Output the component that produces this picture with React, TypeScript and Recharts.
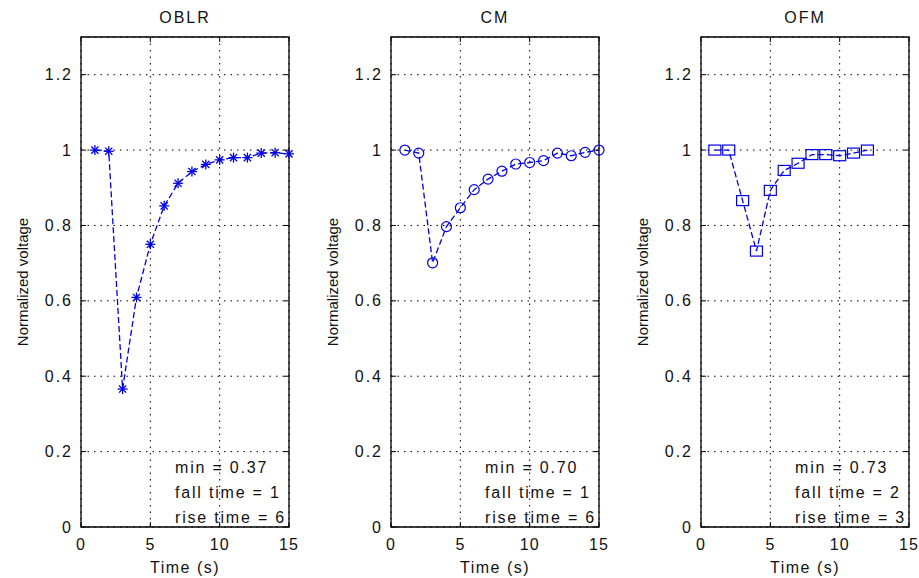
import React from 'react';
import { LineChart, Line, XAxis, YAxis, CartesianGrid, ReferenceArea } from 'recharts';

// time stamps (s)
const timeLong = [1, 2, 3, 4, 5, 6, 7, 8, 9, 10, 11, 12, 13, 14, 15];
const timeShort = [1, 2, 3, 4, 5, 6, 7, 8, 9, 10, 11, 12];

// normalized voltage per method
const oblrValues = [1.0, 0.997, 0.366, 0.609, 0.75, 0.852, 0.912, 0.943, 0.962, 0.974, 0.98, 0.98, 0.992, 0.993, 0.99];
const cmValues = [1.0, 0.992, 0.701, 0.797, 0.847, 0.895, 0.923, 0.944, 0.963, 0.967, 0.972, 0.992, 0.985, 0.994, 1.0];
const ofmValues = [1.0, 1.0, 0.866, 0.732, 0.893, 0.946, 0.965, 0.988, 0.988, 0.985, 0.992, 1.0];

const xTicks = [0, 5, 10, 15];
const yTicks = [0, 0.2, 0.4, 0.6, 0.8, 1, 1.2];

const titles = ['OBLR', 'CM', 'OFM'];
const notes = [
  ['min = 0.37', 'fall time = 1', 'rise time = 6'],
  ['min = 0.70', 'fall time = 1', 'rise time = 6'],
  ['min = 0.73', 'fall time = 2', 'rise time = 3'],
];

const BLUE = '#0000e6';
const FONT = '"Liberation Sans", Arial, sans-serif';
const PLOT_W = 208;
const PLOT_H = 490;
const TICK_LEN = 5;

const toRows = (t: number[], v: number[]) => t.map((time, i) => ({ time, v: v[i] }));

const StarDot: React.FC<any> = ({ cx, cy }) => {
  if (cx == null || cy == null) return null;
  const r = 5;
  const d = r * 0.72;
  return (
    <g stroke={BLUE} strokeWidth={1.3}>
      <line x1={cx - r} y1={cy} x2={cx + r} y2={cy} />
      <line x1={cx} y1={cy - r} x2={cx} y2={cy + r} />
      <line x1={cx - d} y1={cy - d} x2={cx + d} y2={cy + d} />
      <line x1={cx - d} y1={cy + d} x2={cx + d} y2={cy - d} />
    </g>
  );
};

const CircleDot: React.FC<any> = ({ cx, cy }) => {
  if (cx == null || cy == null) return null;
  return <circle cx={cx} cy={cy} r={5} fill="none" stroke={BLUE} strokeWidth={1.2} />;
};

const SquareDot: React.FC<any> = ({ cx, cy }) => {
  if (cx == null || cy == null) return null;
  return <rect x={cx - 6} y={cy - 5} width={12} height={10} fill="none" stroke={BLUE} strokeWidth={1.2} />;
};

// y tick: label plus inward tick marks on left and right edges
const YTick: React.FC<any> = ({ x, y, payload }) => {
  const ax = x + 8;
  return (
    <g>
      <line x1={ax} y1={y} x2={ax + TICK_LEN} y2={y} stroke="#000" />
      <line x1={ax + PLOT_W - TICK_LEN} y1={y} x2={ax + PLOT_W} y2={y} stroke="#000" />
      <text x={x} y={y} textAnchor="end" dominantBaseline="central" fontSize={16} letterSpacing={2} fill="#111" fontFamily={FONT}>
        {String(payload.value)}
      </text>
    </g>
  );
};

const XTick: React.FC<any> = ({ x, y, payload }) => {
  const ay = y - 12;
  return (
    <g>
      <line x1={x} y1={ay} x2={x} y2={ay - TICK_LEN} stroke="#000" />
      <line x1={x} y1={ay - PLOT_H} x2={x} y2={ay - PLOT_H + TICK_LEN} stroke="#000" />
      <text x={x} y={y} dy="0.71em" textAnchor="middle" fontSize={16} letterSpacing={1} fill="#111" fontFamily={FONT}>
        {String(payload.value)}
      </text>
    </g>
  );
};

interface PanelProps {
  rows: { time: number; v: number }[];
  dot: React.FC<any>;
  width: number;
}

const Panel: React.FC<PanelProps> = ({ rows, dot: Dot, width }) => (
  <LineChart width={width} height={578} data={rows} margin={{ top: 37, right: width - 81 - PLOT_W, left: 0, bottom: 0 }}>
    <CartesianGrid stroke="#000" strokeDasharray="1.5 5" />
    <XAxis
      dataKey="time"
      type="number"
      domain={[0, 15]}
      ticks={xTicks}
      height={51}
      tickSize={0}
      tickMargin={12}
      tickLine={false}
      axisLine={false}
      tick={<XTick />}
    />
    <YAxis
      type="number"
      domain={[0, 1.3]}
      ticks={yTicks}
      width={81}
      tickSize={0}
      tickMargin={8}
      tickLine={false}
      axisLine={false}
      tick={<YTick />}
    />
    <ReferenceArea x1={0} x2={15} y1={0} y2={1.3} fill="none" stroke="#000" strokeWidth={1.3} />
    <Line
      type="linear"
      dataKey="v"
      stroke={BLUE}
      strokeWidth={1.3}
      strokeDasharray="6 3"
      dot={(p: any) => <Dot key={`d${p.index}`} {...p} />}
      isAnimationActive={false}
    />
  </LineChart>
);

const panels = [
  { rows: toRows(timeLong, oblrValues), dot: StarDot, width: 310 },
  { rows: toRows(timeLong, cmValues), dot: CircleDot, width: 310 },
  { rows: toRows(timeShort, ofmValues), dot: SquareDot, width: 299 },
];

export default function App() {
  return (
    <div style={{ position: 'absolute', left: 0, top: 0, width: 919, height: 578, background: '#fff', overflow: 'hidden' }}>
      {panels.map((p, i) => (
        <div key={i} style={{ position: 'absolute', left: i * 310, top: 0 }}>
          <Panel rows={p.rows} dot={p.dot} width={p.width} />
        </div>
      ))}
      <svg width={919} height={578} style={{ position: 'absolute', left: 0, top: 0, pointerEvents: 'none' }} fontFamily={FONT}>
        {titles.map((t, i) => {
          const cx = i * 310 + 81 + PLOT_W / 2;
          return (
            <g key={t}>
              <text x={cx} y={17} textAnchor="middle" dominantBaseline="central" fontSize={16} letterSpacing={2} fill="#111">
                {t}
              </text>
              <text x={cx} y={567} textAnchor="middle" dominantBaseline="central" fontSize={16} letterSpacing={1.5} fill="#111">
                Time (s)
              </text>
              <text
                x={i * 310 + 22}
                y={282}
                textAnchor="middle"
                dominantBaseline="central"
                fontSize={15}
                fill="#111"
                transform={`rotate(-90 ${i * 310 + 22} 282)`}
              >
                Normalized voltage
              </text>
              {notes[i].map((n, j) => (
                <text key={n} x={i * 310 + 175} y={467 + j * 25} dominantBaseline="central" fontSize={16} letterSpacing={1.8} fill="#111">
                  {n}
                </text>
              ))}
            </g>
          );
        })}
      </svg>
    </div>
  );
}
